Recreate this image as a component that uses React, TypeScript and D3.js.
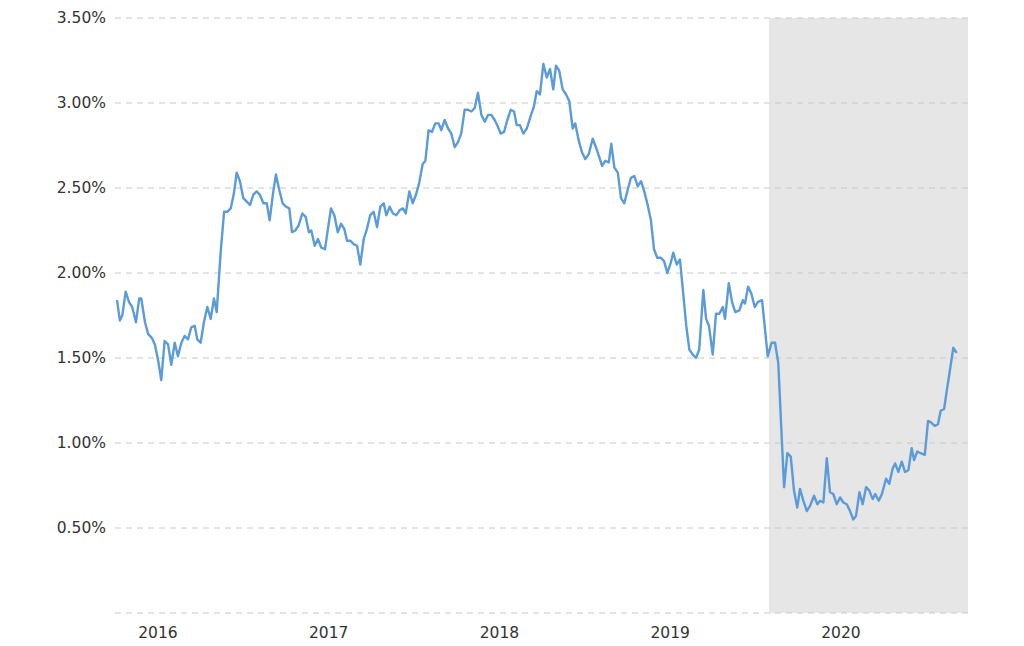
import React from "react";
import * as d3 from "d3";

// Decimal-year positions (weekly observations) and yields in percent
const years: number[] = [
  2016.260, 2016.277, 2016.291, 2016.311, 2016.330, 2016.349, 2016.371, 2016.390, 2016.402, 2016.424,
  2016.443, 2016.463, 2016.482, 2016.502, 2016.519, 2016.539, 2016.559, 2016.578, 2016.598, 2016.617,
  2016.637, 2016.656, 2016.676, 2016.695, 2016.715, 2016.730, 2016.750, 2016.769, 2016.789, 2016.809,
  2016.828, 2016.844, 2016.867, 2016.887, 2016.906, 2016.926, 2016.945, 2016.961, 2016.980, 2017.000,
  2017.020, 2017.039, 2017.058, 2017.078, 2017.097, 2017.117, 2017.137, 2017.154, 2017.174, 2017.191,
  2017.210, 2017.230, 2017.250, 2017.269, 2017.285, 2017.304, 2017.324, 2017.345, 2017.365, 2017.384,
  2017.398, 2017.418, 2017.437, 2017.456, 2017.478, 2017.497, 2017.513, 2017.533, 2017.553, 2017.572,
  2017.591, 2017.607, 2017.626, 2017.646, 2017.666, 2017.685, 2017.705, 2017.724, 2017.743, 2017.763,
  2017.783, 2017.802, 2017.822, 2017.837, 2017.857, 2017.876, 2017.896, 2017.916, 2017.935, 2017.951,
  2017.972, 2017.992, 2018.011, 2018.030, 2018.050, 2018.066, 2018.085, 2018.105, 2018.124, 2018.144,
  2018.159, 2018.179, 2018.199, 2018.218, 2018.238, 2018.257, 2018.276, 2018.296, 2018.316, 2018.335,
  2018.355, 2018.374, 2018.394, 2018.414, 2018.433, 2018.452, 2018.472, 2018.491, 2018.507, 2018.527,
  2018.546, 2018.566, 2018.585, 2018.601, 2018.620, 2018.640, 2018.660, 2018.685, 2018.702, 2018.718,
  2018.737, 2018.757, 2018.777, 2018.796, 2018.815, 2018.831, 2018.850, 2018.870, 2018.890, 2018.909,
  2018.929, 2018.944, 2018.964, 2018.983, 2019.003, 2019.023, 2019.046, 2019.065, 2019.085, 2019.101,
  2019.120, 2019.140, 2019.155, 2019.173, 2019.193, 2019.212, 2019.231, 2019.251, 2019.270, 2019.290,
  2019.310, 2019.329, 2019.348, 2019.368, 2019.387, 2019.405, 2019.424, 2019.444, 2019.464, 2019.483,
  2019.503, 2019.518, 2019.538, 2019.557, 2019.577, 2019.594, 2019.612, 2019.632, 2019.651, 2019.670,
  2019.694, 2019.710, 2019.727, 2019.749, 2019.768, 2019.788, 2019.808, 2019.821, 2019.843, 2019.862,
  2019.881, 2019.905, 2019.925, 2019.938, 2019.956, 2019.975, 2019.995, 2020.014, 2020.038, 2020.055,
  2020.071, 2020.094, 2020.114, 2020.133, 2020.149, 2020.167, 2020.186, 2020.206, 2020.225, 2020.244,
  2020.260, 2020.280, 2020.300, 2020.319, 2020.342, 2020.362, 2020.377, 2020.397, 2020.417, 2020.436,
  2020.455, 2020.475, 2020.495, 2020.514, 2020.534, 2020.553, 2020.572, 2020.588, 2020.608, 2020.627,
  2020.647, 2020.666, 2020.686, 2020.701, 2020.721, 2020.740, 2020.764, 2020.783, 2020.803, 2020.817,
  2020.836, 2020.856, 2020.875, 2020.895, 2020.914, 2020.928, 2020.947, 2020.967, 2020.991, 2021.010,
  2021.029, 2021.049, 2021.068, 2021.084, 2021.104, 2021.123, 2021.143, 2021.158, 2021.178,
];

const yields: number[] = [
  1.84, 1.72, 1.75, 1.89, 1.83, 1.80, 1.71, 1.85, 1.85, 1.71,
  1.64, 1.62, 1.58, 1.48, 1.37, 1.60, 1.58, 1.46, 1.59, 1.51,
  1.59, 1.63, 1.61, 1.68, 1.69, 1.61, 1.59, 1.71, 1.80, 1.73,
  1.85, 1.77, 2.12, 2.36, 2.36, 2.38, 2.47, 2.59, 2.54, 2.44,
  2.42, 2.40, 2.46, 2.48, 2.46, 2.41, 2.41, 2.31, 2.47, 2.58,
  2.49, 2.41, 2.39, 2.38, 2.24, 2.25, 2.28, 2.35, 2.33, 2.24,
  2.25, 2.16, 2.20, 2.15, 2.14, 2.27, 2.38, 2.34, 2.24, 2.29,
  2.26, 2.19, 2.19, 2.17, 2.16, 2.05, 2.20, 2.26, 2.34, 2.36,
  2.27, 2.39, 2.41, 2.34, 2.39, 2.35, 2.34, 2.37, 2.38, 2.35,
  2.48, 2.41, 2.46, 2.53, 2.64, 2.66, 2.84, 2.83, 2.88, 2.88,
  2.84, 2.90, 2.85, 2.82, 2.74, 2.77, 2.82, 2.96, 2.96, 2.95,
  2.97, 3.06, 2.93, 2.89, 2.93, 2.93, 2.90, 2.86, 2.82, 2.83,
  2.90, 2.96, 2.95, 2.87, 2.87, 2.82, 2.85, 2.93, 2.98, 3.07,
  3.05, 3.23, 3.15, 3.20, 3.08, 3.22, 3.19, 3.08, 3.05, 3.01,
  2.85, 2.88, 2.78, 2.71, 2.67, 2.70, 2.79, 2.74, 2.68, 2.63,
  2.66, 2.65, 2.76, 2.62, 2.59, 2.44, 2.41, 2.49, 2.56, 2.57,
  2.51, 2.54, 2.48, 2.40, 2.31, 2.14, 2.09, 2.09, 2.07, 2.00,
  2.06, 2.12, 2.05, 2.08, 1.87, 1.69, 1.55, 1.52, 1.50, 1.55,
  1.90, 1.73, 1.69, 1.52, 1.76, 1.76, 1.80, 1.73, 1.94, 1.83,
  1.77, 1.78, 1.84, 1.82, 1.92, 1.88, 1.80, 1.83, 1.84, 1.67,
  1.51, 1.59, 1.59, 1.47, 1.12, 0.74, 0.94, 0.92, 0.72, 0.62,
  0.73, 0.66, 0.60, 0.63, 0.69, 0.64, 0.66, 0.65, 0.91, 0.71,
  0.70, 0.64, 0.68, 0.65, 0.64, 0.60, 0.55, 0.57, 0.71, 0.64,
  0.74, 0.72, 0.67, 0.70, 0.66, 0.70, 0.79, 0.76, 0.85, 0.88,
  0.83, 0.89, 0.83, 0.84, 0.97, 0.90, 0.95, 0.94, 0.93, 1.13,
  1.12, 1.10, 1.11, 1.19, 1.20, 1.33, 1.46, 1.56, 1.53,
];

const yTicks: number[] = [0, 0.5, 1.0, 1.5, 2.0, 2.5, 3.0, 3.5];
const yearTicks: number[] = [2016, 2017, 2018, 2019, 2020];
const xDomain: [number, number] = [2016.26, 2021.244];
const shadeStart = 2020.079;

export default function App() {
  const width = 1024;
  const height = 646;
  const left = 117;
  const right = 968;
  const top = 18;
  const bottom = 613;

  const x = d3.scaleLinear().domain(xDomain).range([left, right]);
  const y = d3.scaleLinear().domain([0, 3.5]).range([bottom, top]);

  const data = years.map((t, i) => ({ t, v: yields[i] }));
  const line = d3
    .line<{ t: number; v: number }>()
    .x((d) => x(d.t))
    .y((d) => y(d.v));

  const font = "'DejaVu Sans', Verdana, sans-serif";

  return (
    <svg
      width={width}
      height={height}
      style={{ position: "absolute", left: 0, top: 0, background: "#fff" }}
    >
      <rect
        x={x(shadeStart)}
        y={top}
        width={x(xDomain[1]) - x(shadeStart)}
        height={bottom - top}
        fill="#e6e6e6"
      />
      {yTicks.map((t) => (
        <g key={t}>
          <line
            x1={left - 2}
            x2={right}
            y1={y(t)}
            y2={y(t)}
            stroke="#c8c8c8"
            strokeWidth={1}
            strokeDasharray="6,5"
          />
          {t > 0 && (
            <text
              x={106}
              y={y(t)}
              dy="0.35em"
              textAnchor="end"
              fontFamily={font}
              fontSize={15.5}
              fill="#333"
            >
              {t.toFixed(2) + "%"}
            </text>
          )}
        </g>
      ))}
      {yearTicks.map((yr) => (
        <text
          key={yr}
          x={x(yr + 0.5)}
          y={633}
          dy="0.35em"
          textAnchor="middle"
          fontFamily={font}
          fontSize={15.5}
          fill="#333"
        >
          {String(yr)}
        </text>
      ))}
      <path
        d={line(data) || ""}
        fill="none"
        stroke="#5b9bd8"
        strokeWidth={2.4}
        strokeLinejoin="round"
      />
    </svg>
  );
}
